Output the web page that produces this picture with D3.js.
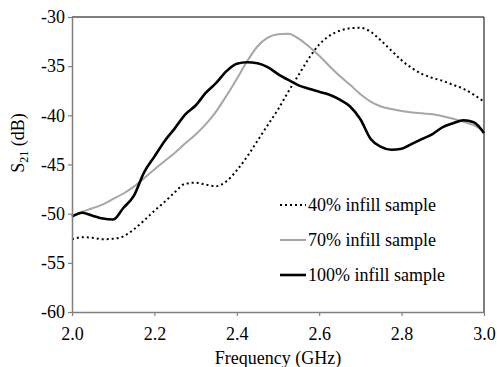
<!DOCTYPE html>
<html>
<head>
<meta charset="utf-8">
<script src="https://cdn.jsdelivr.net/npm/d3@7"></script>
</head>
<body style="margin:0">
<svg id="chart" width="497" height="367"></svg>
<script>
// frequency grid (GHz)
const freq = [2.000, 2.025, 2.050, 2.075, 2.100, 2.125, 2.150, 2.175, 2.200, 2.225,
  2.250, 2.275, 2.300, 2.325, 2.350, 2.375, 2.400, 2.425, 2.450, 2.475,
  2.500, 2.525, 2.550, 2.575, 2.600, 2.625, 2.650, 2.675, 2.700, 2.725,
  2.750, 2.775, 2.800, 2.825, 2.850, 2.875, 2.900, 2.925, 2.950, 2.975, 3.000];

// S21 (dB)
const infill40 = [-52.6, -52.4, -52.45, -52.6, -52.55, -52.3, -51.6, -50.7, -49.7, -48.8,
  -47.8, -46.95, -46.85, -47.05, -47.2, -46.7, -45.6, -44.2, -42.6, -41.0,
  -39.4, -37.6, -35.9, -34.2, -32.8, -31.9, -31.4, -31.15, -31.1, -31.5,
  -32.4, -33.4, -34.4, -35.2, -35.8, -36.2, -36.5, -36.9, -37.3, -37.9, -38.6];

const infill70 = [-50.3, -49.8, -49.45, -49.05, -48.5, -47.95, -47.25, -46.4, -45.5, -44.65,
  -43.8, -42.85, -41.95, -40.9, -39.6, -38.0, -36.3, -34.5, -33.0, -32.1,
  -31.75, -31.7, -32.2, -33.0, -33.95, -35.0, -36.0, -36.9, -37.85, -38.6,
  -39.1, -39.35, -39.55, -39.7, -39.8, -39.9, -40.1, -40.35, -40.65, -41.0, -41.6];

const infill100 = [-50.3, -49.9, -50.2, -50.5, -50.6, -49.4, -48.2, -45.8, -44.2, -42.6,
  -41.3, -39.9, -39.0, -37.7, -36.7, -35.5, -34.75, -34.6, -34.7, -35.1,
  -35.8, -36.4, -36.95, -37.3, -37.6, -37.9, -38.4, -39.1, -40.4, -42.4,
  -43.2, -43.5, -43.4, -42.9, -42.4, -41.9, -41.2, -40.8, -40.5, -40.7, -41.8];

const xTicks = [2.0, 2.2, 2.4, 2.6, 2.8, 3.0];
const yTicks = [-60, -55, -50, -45, -40, -35, -30];

const seriesNames = ['40% infill sample', '70% infill sample', '100% infill sample'];

const series = [
  { name: seriesNames[0], values: infill40, color: '#000', width: 2, dash: '2,3' },
  { name: seriesNames[1], values: infill70, color: '#a6a6a6', width: 2, dash: null },
  { name: seriesNames[2], values: infill100, color: '#000', width: 2.6, dash: null }
];

const W = 497, H = 367;
const margin = { top: 17, right: 13, bottom: 55, left: 72 };
const FONT = "'Times New Roman', 'Liberation Serif', serif";
const FS = '18px';

const svg = d3.select('#chart')

const x = d3.scaleLinear().domain([2, 3]).range([margin.left, W - margin.right]);
const y = d3.scaleLinear().domain([-60, -30]).range([H - margin.bottom, margin.top]);

// top and right frame
svg.append('path')
  .attr('d', `M${x(2)},${y(-30)}H${x(3)}V${y(-60)}`)
  .attr('fill', 'none')
  .attr('stroke', '#000')
  .attr('stroke-width', 1)

const line = d3.line()
  .x((d, i) => x(freq[i]))
  .y(d => y(d))
  .curve(d3.curveMonotoneX);

svg.append('g')
  .selectAll('path')
  .data(series)
  .enter()
  .append('path')
  .attr('d', d => line(d.values))
  .attr('fill', 'none')
  .attr('stroke', d => d.color)
  .attr('stroke-width', d => d.width)
  .attr('stroke-dasharray', d => d.dash)
  .attr('stroke-linejoin', 'round')

// axes
const xAxis = svg.append('g')
  .attr('transform', `translate(0, ${y(-60)})`)
  .call(d3.axisBottom(x).tickValues(xTicks).tickFormat(d3.format('.1f')).tickSizeInner(4).tickSizeOuter(0));

const yAxis = svg.append('g')
  .attr('transform', `translate(${x(2)}, 0)`)
  .call(d3.axisLeft(y).tickValues(yTicks).tickFormat(d => d).tickSizeInner(4).tickSizeOuter(0));

[xAxis, yAxis].forEach(a => {
  a.attr('font-family', FONT).attr('font-size', FS);
  a.select('.domain').attr('stroke', '#808080').attr('stroke-width', 1.5);
  a.selectAll('.tick line').attr('stroke', '#808080').attr('stroke-width', 1.2);
  a.selectAll('.tick text')
    .attr('fill', '#000')
    .style('font-family', FONT)
    .style('font-size', FS);
});
xAxis.selectAll('.tick text').attr('y', 15);
yAxis.selectAll('.tick text').attr('x', -7);

// axis titles
svg.append('text')
  .attr('x', (x(2) + x(3)) / 2)
  .attr('y', 364)
  .attr('text-anchor', 'middle')
  .style('font-family', FONT)
  .style('font-size', FS)
  .text('Frequency (GHz)')

const yTitle = svg.append('text')
  .attr('transform', `translate(24, 143) rotate(-90)`)
  .attr('text-anchor', 'middle')
  .style('font-family', FONT)
  .style('font-size', FS)
yTitle.append('tspan').text('S');
yTitle.append('tspan').attr('dy', 4).style('font-size', '12px').text('21');
yTitle.append('tspan').attr('dy', -4).text(' (dB)');

// legend
const legend = svg.append('g')
  .selectAll('g')
  .data(series)
  .enter()
  .append('g')
  .attr('transform', (d, i) => `translate(280, ${205 + i * 35})`)

legend.append('line')
  .attr('x1', 0).attr('x2', 26)
  .attr('stroke', d => d.color)
  .attr('stroke-width', d => d.width)
  .attr('stroke-dasharray', d => d.dash)

legend.append('text')
  .attr('x', 28)
  .attr('dy', '0.33em')
  .style('font-family', FONT)
  .style('font-size', FS)
  .text(d => d.name)
</script>
</body>
</html>
